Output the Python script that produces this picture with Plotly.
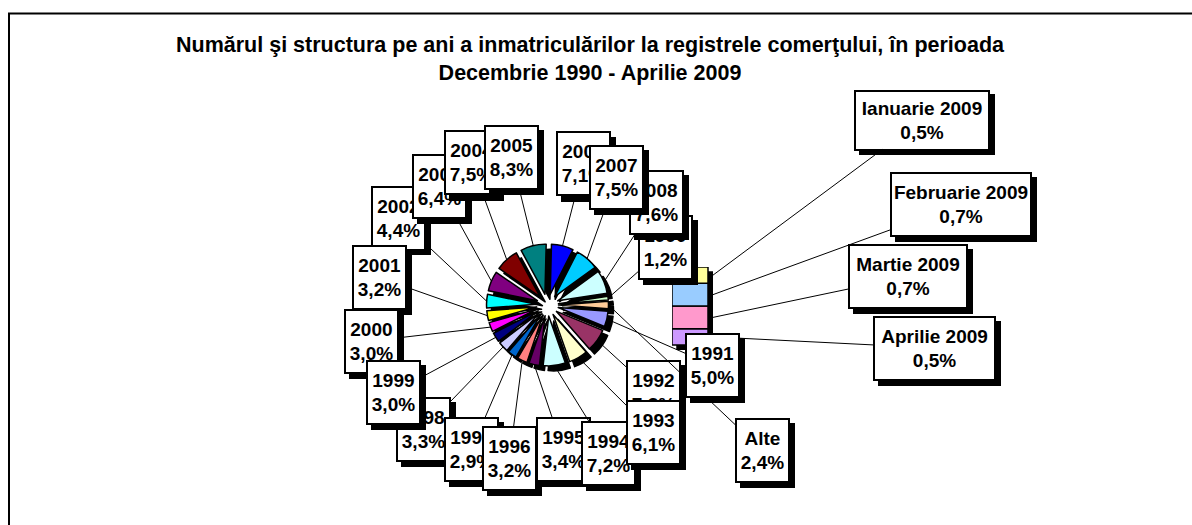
import math
import plotly.graph_objects as go

W, H = 1192, 525

# ---------------- data ----------------
title_text = ("Numărul şi structura pe ani a inmatriculărilor la registrele comerţului, în perioada"
              "<br>Decembrie 1990 - Aprilie 2009")
years = ["1991", "1992", "1993", "1994", "1995", "1996", "1997", "1998", "1999", "2000",
         "2001", "2002", "2003", "2004", "2005", "2006", "2007", "2008", "1990"]
year_share = [5.0, 7.3, 6.1, 7.2, 3.4, 3.2, 2.9, 3.3, 3.0, 3.0,
              3.2, 4.4, 6.4, 7.5, 8.3, 7.1, 7.5, 7.6, 1.2]
months = ["Ianuarie 2009", "Februarie 2009", "Martie 2009", "Aprilie 2009"]
month_share = [0.5, 0.7, 0.7, 0.5]
other_label = "Alte"

pie_colors = ["#9999FF", "#993366", "#FFFFCC", "#CCFFFF", "#660066", "#FF8080", "#0066CC",
              "#CCCCFF", "#000080", "#FF00FF", "#FFFF00", "#00FFFF", "#800080", "#800000",
              "#008080", "#0000FF", "#00CCFF", "#CCFFFF", "#CCFFCC", "#FFCC99"]
month_colors = ["#FFFF99", "#99CCFF", "#FF99CC", "#CC99FF"]

# ---------------- layout constants (pixels) ----------------
PIE_CX, PIE_CY, PIE_R = 547.5, 305.0, 61.0
PULL = 0.22
SHADOW = 5
BAR_LEFT, BAR_RIGHT, BAR_TOP, BAR_BOTTOM = 672.0, 708.0, 267.0, 345.0
FONT = "Liberation Sans, Arial, sans-serif"
LABEL_SIZE = 19
BW, BP = 2, 1

# label box centres / sizes (pixels)
year_box_center = {
    "1991": (712, 365), "1992": (653.5, 392), "1993": (653.5, 432.5), "1994": (608.5, 453),
    "1995": (563, 449.5), "1996": (509.5, 458), "1997": (471.5, 449), "1998": (423.5, 429.5),
    "1999": (393, 392.5), "2000": (371, 341), "2001": (379, 277.5), "2002": (398, 218),
    "2003": (439, 186), "2004": (471.5, 163), "2005": (511.5, 157.5), "2006": (583.5, 164),
    "2007": (616.5, 177), "2008": (656, 202), "1990": (665.5, 247.5), "Alte": (762, 450),
}
YEAR_BOX = (55, 65)
month_box = {
    "Ianuarie 2009": (922, 120, 136, 61),
    "Februarie 2009": (961, 204, 142, 65),
    "Martie 2009": (908, 276.5, 120, 65),
    "Aprilie 2009": (934.5, 348, 123, 65),
}
# drawing order (later = on top)
draw_order = ["1990", "2008", "2006", "2007", "2002", "2003", "2004", "2005", "2001", "2000",
              "1998", "1999", "1997", "1996", "1995", "1994", "1992", "1993"]

# ---------------- derived ----------------
other_value = sum(month_share)
pie_labels = years + [other_label]
pie_values = year_share + [other_value]
total = sum(pie_values)
other_deg = other_value / total * 360.0
rotation = 90.0 + other_deg / 2.0

def fmt(v):
    return f"{v:.1f}%".replace(".", ",")

def px_to_paper(x, y):
    return x / W, 1 - y / H

fig = go.Figure()

def pie_domain(cx, cy, r):
    return dict(x=[(cx - r) / W, (cx + r) / W], y=[(H - cy - r) / H, (H - cy + r) / H])

# shadow pie
fig.add_trace(go.Pie(values=pie_values, labels=pie_labels, sort=False, direction="clockwise",
                     rotation=rotation, pull=PULL, textinfo="none", hoverinfo="skip",
                     marker=dict(colors=["black"] * len(pie_values), line=dict(color="black", width=1.5)),
                     domain=pie_domain(PIE_CX + SHADOW, PIE_CY + SHADOW, PIE_R), showlegend=False))
# main pie
fig.add_trace(go.Pie(values=pie_values, labels=pie_labels, sort=False, direction="clockwise",
                     rotation=rotation, pull=PULL, textinfo="none",
                     marker=dict(colors=pie_colors, line=dict(color="black", width=1.5)),
                     domain=pie_domain(PIE_CX, PIE_CY, PIE_R), showlegend=False))

# ---------------- secondary bar ----------------
bar_w_px = BAR_RIGHT - BAR_LEFT
bar_h_px = BAR_BOTTOM - BAR_TOP
sx = SHADOW / bar_w_px
sy = SHADOW / bar_h_px * other_value
fig.add_trace(go.Bar(x=[0], y=[other_value], base=[-sy], width=[1], offset=-0.5 + sx,
                     marker=dict(color="black", line=dict(color="black", width=1.5)),
                     hoverinfo="skip", showlegend=False, cliponaxis=False))
stack_vals = list(reversed(month_share))
stack_cols = list(reversed(month_colors))
stack_names = list(reversed(months))
cum = 0.0
for v, c, n in zip(stack_vals, stack_cols, stack_names):
    fig.add_trace(go.Bar(x=[0], y=[v], base=[cum], width=[1], offset=-0.5, name=n,
                         marker=dict(color=c, line=dict(color="black", width=1.5)),
                         showlegend=False, cliponaxis=False))
    cum += v

fig.update_layout(
    barmode="overlay",
    xaxis=dict(domain=[BAR_LEFT / W, (BAR_RIGHT + SHADOW) / W], range=[-0.5, 0.5 + sx],
               visible=False, fixedrange=True),
    yaxis=dict(domain=[(H - BAR_BOTTOM - SHADOW) / H, (H - BAR_TOP) / H], range=[-sy, other_value],
               visible=False, fixedrange=True),
)

# ---------------- annotations ----------------
annotations = []
label_font = dict(family=FONT, size=LABEL_SIZE, color="black", weight="bold")

def add_box(text, cx, cy, w, h, anchor=None):
    inner_w = w - 2 * (BW + BP)
    inner_h = h - 2 * (BW + BP)
    px, py = px_to_paper(cx, cy)
    # drop shadow (fixed-size black box, no text)
    annotations.append(dict(text=" ", xref="paper", yref="paper", x=px, y=py,
                            xshift=SHADOW, yshift=-SHADOW, showarrow=False,
                            xanchor="center", yanchor="middle",
                            width=inner_w, height=inner_h, bgcolor="black", bordercolor="black",
                            borderwidth=BW, borderpad=BP, font=label_font))
    ax_, ay_ = anchor
    apx, apy = px_to_paper(ax_, ay_)
    annotations.append(dict(text=text, xref="paper", yref="paper", x=apx, y=apy,
                            showarrow=True, arrowhead=0, arrowwidth=1, arrowcolor="black",
                            standoff=0, startstandoff=0, ax=cx - ax_, ay=cy - ay_,
                            axref="pixel", ayref="pixel",
                            xanchor="center", yanchor="middle", width=inner_w, height=inner_h,
                            bgcolor="white", bordercolor="black", borderwidth=BW, borderpad=BP,
                            align="center", font=label_font))

# pie slice anchors (outer edge at mid angle)
slice_anchor = {}
acc = rotation
for lab, v in zip(pie_labels, pie_values):
    deg = v / total * 360.0
    mid = math.radians(acc + deg / 2)
    slice_anchor[lab] = (PIE_CX + PIE_R * math.sin(mid), PIE_CY - PIE_R * math.cos(mid))
    acc += deg
slice_value = dict(zip(pie_labels, pie_values))

# month anchors (right side of bar incl. shadow, segment middle)
month_anchor = {}
cum = 0.0
for v, n in zip(stack_vals, stack_names):
    mid = cum + v / 2
    month_anchor[n] = (BAR_RIGHT + SHADOW, BAR_BOTTOM - mid / other_value * bar_h_px)
    cum += v

for lab in draw_order:
    cx, cy = year_box_center[lab]
    add_box(f"{lab}<br>{fmt(slice_value[lab])}", cx, cy, *YEAR_BOX, anchor=slice_anchor[lab])

for n, v in zip(months, month_share):
    cx, cy, w, h = month_box[n]
    add_box(f"{n}<br>{fmt(v)}", cx, cy, w, h, anchor=month_anchor[n])

cx, cy = year_box_center[other_label]
add_box(f"{other_label}<br>{fmt(other_value)}", cx, cy, *YEAR_BOX, anchor=slice_anchor[other_label])
cx, cy = year_box_center["1991"]
add_box(f"1991<br>{fmt(slice_value['1991'])}", cx, cy, *YEAR_BOX, anchor=slice_anchor["1991"])

# title
annotations.append(dict(text=title_text, xref="paper", yref="paper", x=590 / W, y=1 - 58.5 / H,
                        xanchor="center", yanchor="middle", showarrow=False, align="center",
                        font=dict(family=FONT, size=21.5, color="black", weight="bold")))

fig.update_layout(
    annotations=annotations,
    shapes=[dict(type="rect", xref="paper", yref="paper", x0=9 / W, y0=1 - 13.5 / H, x1=1.02, y1=-0.02,
                 line=dict(color="black", width=2), fillcolor="rgba(0,0,0,0)")],
    width=W, height=H, margin=dict(l=0, r=0, t=0, b=0),
    paper_bgcolor="white", plot_bgcolor="white", showlegend=False,
)

fig.write_html("out.html", config={"displayModeBar": False},
               post_script="document.body.style.margin='0';document.body.style.overflow='hidden';")
